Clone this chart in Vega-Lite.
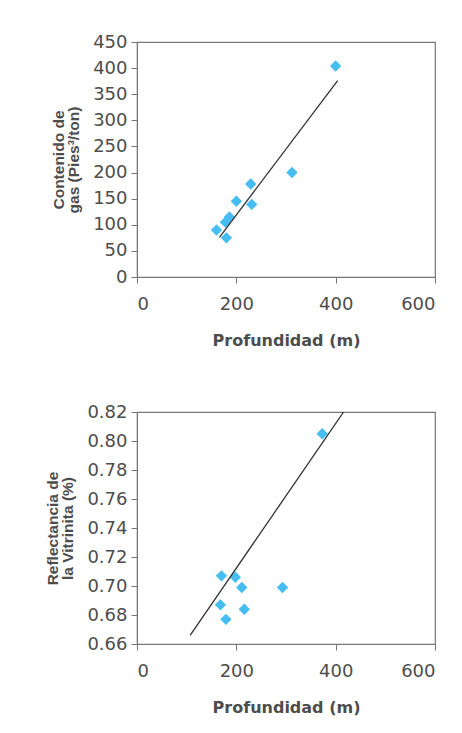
{
  "$schema": "https://vega.github.io/schema/vega-lite/v6.json",
  "padding": {"left": 44, "top": 32, "right": 10, "bottom": 10},
  "background": "white",
  "spacing": 53,
  "datasets": {
    "gas": [
      {"prof": 160, "val": 90},
      {"prof": 178, "val": 105},
      {"prof": 186, "val": 115},
      {"prof": 180, "val": 75},
      {"prof": 200, "val": 145},
      {"prof": 229, "val": 178},
      {"prof": 231, "val": 139},
      {"prof": 312, "val": 200},
      {"prof": 400, "val": 404}
    ],
    "gasLine": [
      {"prof": 166, "val": 76},
      {"prof": 404, "val": 376}
    ],
    "refl": [
      {"prof": 373, "val": 0.805},
      {"prof": 293, "val": 0.699},
      {"prof": 170, "val": 0.707},
      {"prof": 198, "val": 0.706},
      {"prof": 211, "val": 0.699},
      {"prof": 168, "val": 0.687},
      {"prof": 216, "val": 0.684},
      {"prof": 179, "val": 0.677}
    ],
    "reflLine": [
      {"prof": 107, "val": 0.666},
      {"prof": 416, "val": 0.82}
    ]
  },
  "config": {
    "view": {"stroke": "#777", "strokeWidth": 1.2},
    "axis": {
      "grid": false,
      "domainColor": "#777",
      "tickColor": "#777",
      "tickSize": 6,
      "labelOverlap": false,
      "labelFont": "DejaVu Sans",
      "labelFontSize": 18,
      "labelColor": "#4d4d4d",
      "titleFont": "DejaVu Sans",
      "titleFontWeight": "bold",
      "titleColor": "#4d4d4d"
    }
  },
  "vconcat": [
    {
      "width": 298,
      "height": 235,
      "encoding": {
        "x": {"field": "prof", "type": "quantitative", "scale": {"domain": [0, 600], "nice": false},
          "axis": {"values": [0, 200, 400, 600], "title": "Profundidad (m)", "titleFontSize": 16, "labelPadding": 12, "titlePadding": 19}},
        "y": {"field": "val", "type": "quantitative", "scale": {"domain": [0, 450], "nice": false},
          "axis": {"values": [0, 50, 100, 150, 200, 250, 300, 350, 400, 450], "title": ["Contenido de", "gas (Pies³/ton)"], "titleFont": "Liberation Sans", "titleFontSize": 15.5, "titleLineHeight": 15.5, "labelPadding": 4, "titlePadding": 11}}
      },
      "layer": [
        {
          "data": {"name": "gas"},
          "mark": {"type": "point", "shape": "diamond", "filled": true, "size": 130, "color": "#45bdf0", "opacity": 1}
        },
        {
          "data": {"name": "gasLine"},
          "mark": {"type": "line", "color": "#333", "strokeWidth": 1.3}
        }
      ]
    },
    {
      "width": 298,
      "height": 232,
      "encoding": {
        "x": {"field": "prof", "type": "quantitative", "scale": {"domain": [0, 600], "nice": false},
          "axis": {"values": [0, 200, 400, 600], "title": "Profundidad (m)", "titleFontSize": 16, "labelPadding": 12, "titlePadding": 19}},
        "y": {"field": "val", "type": "quantitative", "scale": {"domain": [0.66, 0.82], "nice": false, "zero": false},
          "axis": {"values": [0.66, 0.68, 0.7, 0.72, 0.74, 0.76, 0.78, 0.8, 0.82], "format": ".2f", "title": ["Reflectancia de", "la Vitrinita (%)"], "titleFont": "Liberation Sans", "titleFontSize": 15.5, "titleLineHeight": 15.5, "labelPadding": 4, "titlePadding": 11}}
      },
      "layer": [
        {
          "data": {"name": "refl"},
          "mark": {"type": "point", "shape": "diamond", "filled": true, "size": 130, "color": "#45bdf0", "opacity": 1}
        },
        {
          "data": {"name": "reflLine"},
          "mark": {"type": "line", "color": "#333", "strokeWidth": 1.3, "clip": true}
        }
      ]
    }
  ]
}
